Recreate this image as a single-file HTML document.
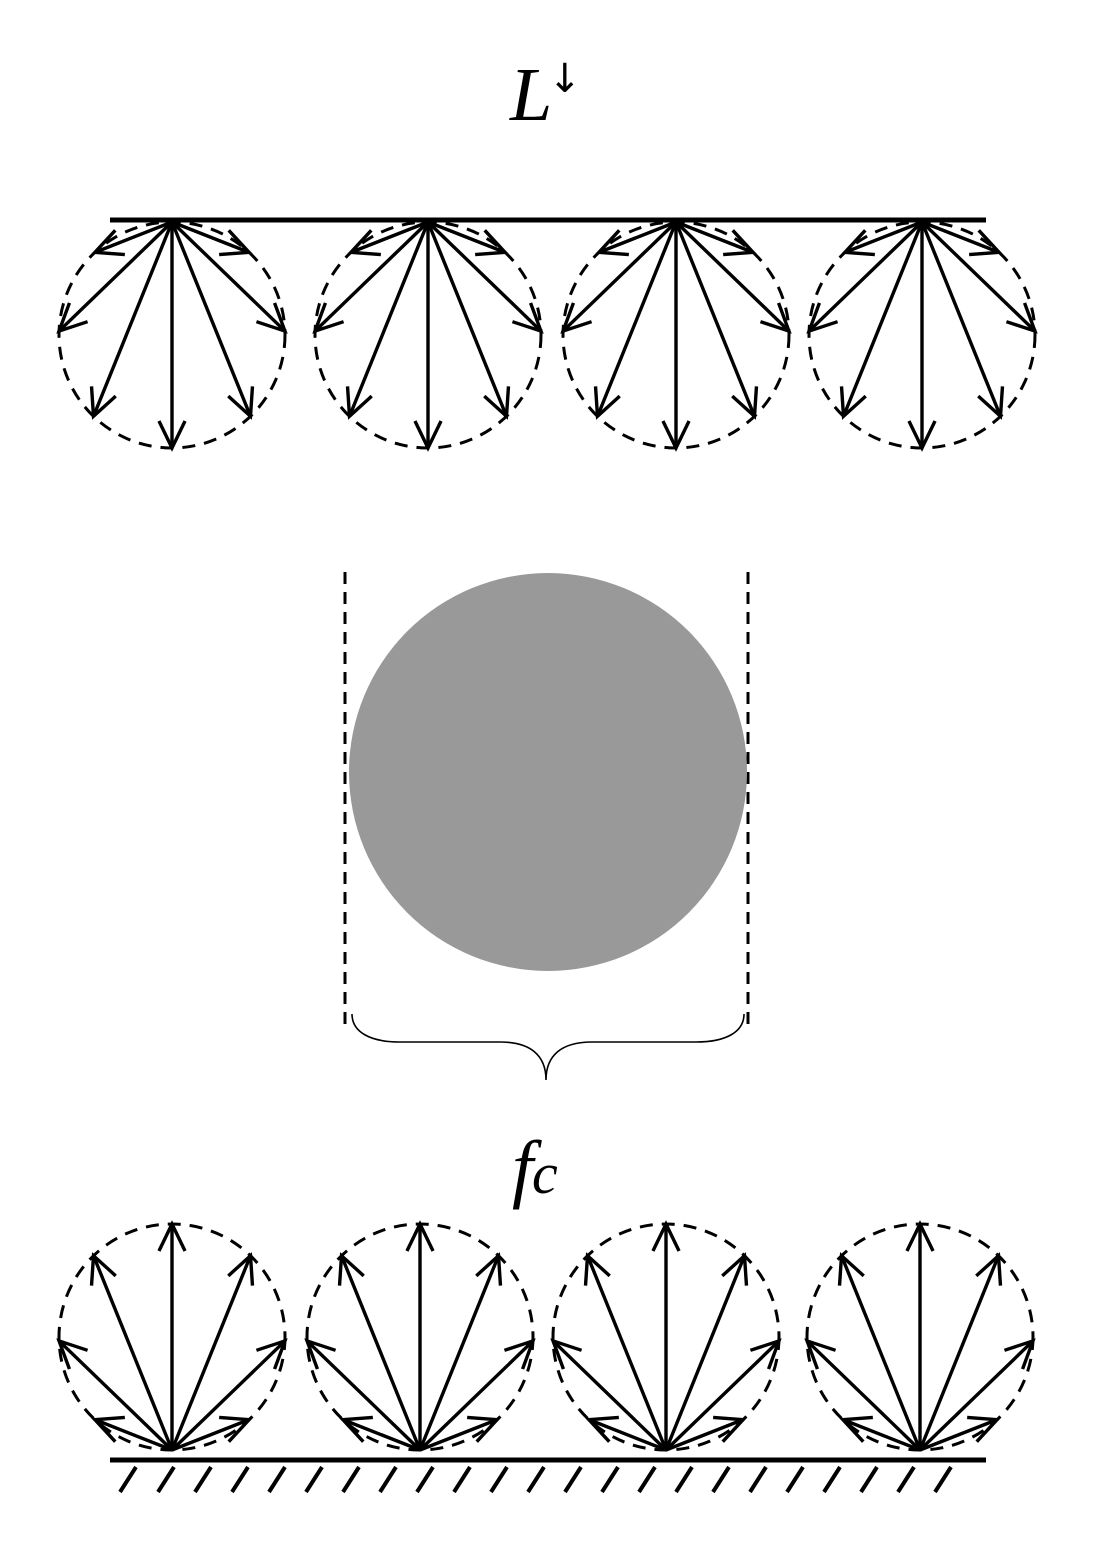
<!DOCTYPE html>
<html><head><meta charset="utf-8"><style>
html,body{margin:0;padding:0;background:#fff;}
svg{display:block;}
</style></head><body>
<svg id="fig" width="1097" height="1553" viewBox="0 0 1097 1553" xmlns="http://www.w3.org/2000/svg">
<text x="510" y="120" font-family="Liberation Serif, serif" font-style="italic" font-size="76">L</text>
<text x="548" y="92" font-family="DejaVu Sans, sans-serif" font-size="40">↓</text>
<line x1="110" y1="220" x2="986" y2="220" stroke="#000" stroke-width="5"/>
<line x1="110" y1="1460" x2="986" y2="1460" stroke="#000" stroke-width="5"/>
<line x1="345" y1="572" x2="345" y2="1026" stroke="#000" stroke-width="3" stroke-dasharray="12,8"/>
<line x1="748" y1="572" x2="748" y2="1026" stroke="#000" stroke-width="3" stroke-dasharray="12,8"/>
<circle cx="548" cy="772" r="199" fill="#999"/>
<path d="M352,1014 C352,1032 370,1042 400,1042 L500,1042 C530,1042 546,1055 546,1080 C546,1055 562,1042 592,1042 L696,1042 C726,1042 744,1032 744,1014" fill="none" stroke="#000" stroke-width="1.6"/>
<text x="512" y="1193" font-family="Liberation Serif, serif" font-style="italic" font-size="76">f</text>
<text x="532" y="1193" font-family="Liberation Serif, serif" font-style="italic" font-size="58">c</text>
<g id="g"></g>
</svg>
<script>
const topOrigins=[172,428,676,922];
const bottomOrigins=[172,420,666,920];
const arrowAngles=[0,44,-44,92,-92,137,-137];
const hatchStarts=[120,158,195,232,269,306,343,380,417,454,491,528,565,602,639,676,713,750,787,824,861,898,935];
const R=113;
const NS="http://www.w3.org/2000/svg";
const g=document.getElementById('g');
function mk(tag,attrs){const e=document.createElementNS(NS,tag);for(const k in attrs)e.setAttribute(k,attrs[k]);g.appendChild(e);return e;}
function arrow(x0,y0,x1,y1){
  const l=mk('line',{x1:x0,y1:y0,x2:x1,y2:y1,stroke:'#000','stroke-width':3.4});
  
  
  const a=Math.atan2(y1-y0,x1-x0),h=30,s=0.45;
  const p=mk('polyline',{points:`${x1-h*Math.cos(a-s)},${y1-h*Math.sin(a-s)} ${x1},${y1} ${x1-h*Math.cos(a+s)},${y1-h*Math.sin(a+s)}`,fill:'none',stroke:'#000','stroke-width':3.4});
  
  
}
topOrigins.forEach(x=>{
  const cy=222+R;
  const c=mk('circle',{cx:x,cy:cy,r:R,fill:'none',stroke:'#000','stroke-width':3,'stroke-dasharray':'13,9'});
  
  
  arrowAngles.forEach(d=>{const t=d*Math.PI/180;arrow(x,222,x+R*Math.sin(t),cy+R*Math.cos(t));});
});
bottomOrigins.forEach(x=>{
  const cy=1450-R;
  const c=mk('circle',{cx:x,cy:cy,r:R,fill:'none',stroke:'#000','stroke-width':3,'stroke-dasharray':'13,9'});
  
  
  arrowAngles.forEach(d=>{const t=d*Math.PI/180;arrow(x,1450,x+R*Math.sin(t),cy-R*Math.cos(t));});
});
hatchStarts.forEach(x=>{
  const l=mk('line',{x1:x,y1:1492,x2:x+16,y2:1467,stroke:'#000','stroke-width':4});
  
  
});
</script>
</body></html>
